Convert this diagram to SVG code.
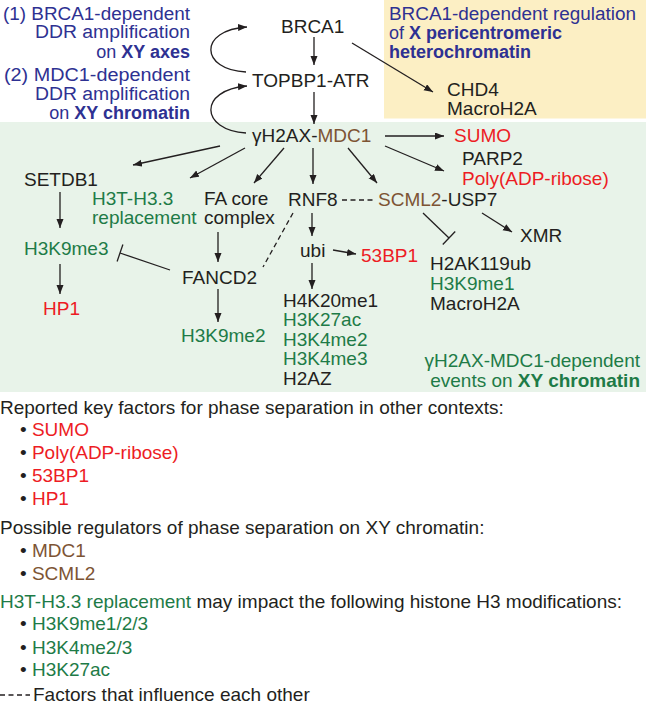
<svg xmlns="http://www.w3.org/2000/svg" width="646" height="708" viewBox="0 0 646 708">
<defs>
<style>
text{font-family:"Liberation Sans",Arial,sans-serif;font-size:19px;fill:#231f20}
.s{font-size:18px}
.b{font-weight:bold}
.bl{fill:#2E3192}
.g{fill:#1E7B47}
.r{fill:#ED1C24}
.br{fill:#7D5434}
.c{fill:none;stroke:#231f20;stroke-width:1.3}
.d{stroke-dasharray:5 3.5}
</style>
<marker id="ah" markerUnits="userSpaceOnUse" markerWidth="10" markerHeight="8" refX="9" refY="3.5" orient="auto">
<path d="M0,0 L9,3.5 L0,7 z" fill="#231f20"/>
</marker>
</defs>
<rect width="646" height="708" fill="#ffffff"/>
<rect id="bg-yellow" x="384" y="0" width="262" height="118.5" fill="#FCEFC4"/>
<rect id="bg-green" x="0" y="122" width="646" height="270" fill="#E8F3E9"/>

<g id="label-left">
<text x="190" y="19.5" text-anchor="end" class="bl s" textLength="187" lengthAdjust="spacingAndGlyphs">(1) BRCA1-dependent</text>
<text x="190" y="38" text-anchor="end" class="bl s" textLength="155" lengthAdjust="spacingAndGlyphs">DDR amplification</text>
<text x="190" y="57.5" text-anchor="end" class="bl s">on <tspan class="b">XY axes</tspan></text>
<text x="190" y="81" text-anchor="end" class="bl s" textLength="186" lengthAdjust="spacingAndGlyphs">(2) MDC1-dependent</text>
<text x="190" y="99.5" text-anchor="end" class="bl s" textLength="155" lengthAdjust="spacingAndGlyphs">DDR amplification</text>
<text x="190" y="118.5" text-anchor="end" class="bl s">on <tspan class="b">XY chromatin</tspan></text>
</g>
<g id="label-yellow">
<text x="389" y="20" class="bl s" textLength="247" lengthAdjust="spacingAndGlyphs">BRCA1-dependent regulation</text>
<text x="389" y="39" class="bl s">of <tspan class="b">X pericentromeric</tspan></text>
<text x="389" y="57.5" class="bl b s">heterochromatin</text>
</g>
<g id="label-green">
<text x="640" y="367" text-anchor="end" class="g">γH2AX-MDC1-dependent</text>
<text x="640" y="387" text-anchor="end" class="g">events on <tspan class="b">XY chromatin</tspan></text>
</g>

<g id="n-brca1"><text x="281" y="33">BRCA1</text></g>
<g id="n-topbp1"><text x="252" y="87">TOPBP1-ATR</text></g>
<g id="n-chd4"><text x="447" y="96">CHD4</text><text x="447" y="115">MacroH2A</text></g>
<g id="n-h2ax"><text x="252" y="142">γH2AX-<tspan class="br">MDC1</tspan></text></g>
<g id="n-sumo"><text x="454" y="142" class="r">SUMO</text></g>
<g id="n-parp2"><text x="462" y="165">PARP2</text><text x="462" y="185" class="r">Poly(ADP-ribose)</text></g>
<g id="n-setdb1"><text x="24" y="186">SETDB1</text></g>
<g id="n-h3t"><text x="92" y="205" class="g">H3T-H3.3</text><text x="92" y="224" class="g">replacement</text></g>
<g id="n-facore"><text x="204" y="205">FA core</text><text x="204" y="224">complex</text></g>
<g id="n-rnf8"><text x="288" y="206">RNF8</text></g>
<g id="n-scml2"><text x="378" y="206"><tspan class="br">SCML2</tspan>-USP7</text></g>
<g id="n-h3k9me3"><text x="24" y="255" class="g">H3K9me3</text></g>
<g id="n-fancd2"><text x="182" y="284">FANCD2</text></g>
<g id="n-hp1"><text x="43" y="315" class="r">HP1</text></g>
<g id="n-h3k9me2"><text x="181" y="342" class="g">H3K9me2</text></g>
<g id="n-ubi"><text x="300" y="257">ubi</text></g>
<g id="n-53bp1"><text x="361" y="262" class="r">53BP1</text></g>
<g id="n-xmr"><text x="520" y="242">XMR</text></g>
<g id="n-h2ak119ub"><text x="430" y="270">H2AK119ub</text><text x="430" y="290" class="g">H3K9me1</text><text x="430" y="310">MacroH2A</text></g>
<g id="n-h4k20me1"><text x="283" y="307">H4K20me1</text><text x="283" y="326" class="g">H3K27ac</text><text x="283" y="346" class="g">H3K4me2</text><text x="283" y="365" class="g">H3K4me3</text><text x="283" y="385">H2AZ</text></g>

<g id="connectors">
<line class="c" x1="314" y1="37" x2="314" y2="65" marker-end="url(#ah)"/>
<line class="c" x1="314" y1="92" x2="314" y2="124" marker-end="url(#ah)"/>
<line class="c" x1="352" y1="43" x2="433" y2="92" marker-end="url(#ah)"/>
<path class="c" d="M246 72 C200 70 198 30 247 27" marker-end="url(#ah)"/>
<path class="c" d="M246 133 C200 130 198 90 247 86" marker-end="url(#ah)"/>
<line class="c" x1="385" y1="136" x2="444" y2="136" marker-end="url(#ah)"/>
<line class="c" x1="385" y1="146" x2="444" y2="171" marker-end="url(#ah)"/>
<line class="c" x1="220" y1="146" x2="133" y2="165" marker-end="url(#ah)"/>
<line class="c" x1="245" y1="148" x2="190" y2="178" marker-end="url(#ah)"/>
<line class="c" x1="284" y1="148" x2="254" y2="183" marker-end="url(#ah)"/>
<line class="c" x1="313" y1="148" x2="313" y2="184" marker-end="url(#ah)"/>
<line class="c" x1="348" y1="148" x2="377" y2="183" marker-end="url(#ah)"/>
<line class="c d" x1="342" y1="200" x2="374" y2="200"/>
<line class="c" x1="60" y1="192" x2="60" y2="228" marker-end="url(#ah)"/>
<line class="c" x1="60" y1="264" x2="60" y2="294" marker-end="url(#ah)"/>
<line class="c" x1="170" y1="270" x2="120" y2="253"/>
<line class="c" x1="122.9" y1="244.5" x2="117.1" y2="261.5"/>
<line class="c" x1="218" y1="232" x2="218" y2="262" marker-end="url(#ah)"/>
<line class="c" x1="218" y1="289" x2="218" y2="322" marker-end="url(#ah)"/>
<line class="c d" x1="293" y1="213" x2="263" y2="267"/>
<line class="c" x1="312" y1="213" x2="312" y2="236" marker-end="url(#ah)"/>
<line class="c" x1="333" y1="250" x2="356" y2="254" marker-end="url(#ah)"/>
<line class="c" x1="312" y1="263" x2="312" y2="289" marker-end="url(#ah)"/>
<line class="c" x1="423" y1="213" x2="449" y2="238"/>
<line class="c" x1="455.2" y1="231.5" x2="442.8" y2="244.5"/>
<line class="c" x1="482" y1="213" x2="512" y2="232" marker-end="url(#ah)"/>
<line class="c d" x1="0" y1="695" x2="30" y2="695"/>
</g>

<g id="legend">
<text x="0" y="414">Reported key factors for phase separation in other contexts:</text>
<text x="20" y="436">• <tspan class="r">SUMO</tspan></text>
<text x="20" y="459">• <tspan class="r">Poly(ADP-ribose)</tspan></text>
<text x="20" y="482">• <tspan class="r">53BP1</tspan></text>
<text x="20" y="505">• <tspan class="r">HP1</tspan></text>
<text x="0" y="534">Possible regulators of phase separation on XY chromatin:</text>
<text x="20" y="557">• <tspan class="br">MDC1</tspan></text>
<text x="20" y="580">• <tspan class="br">SCML2</tspan></text>
<text x="0" y="608"><tspan class="g">H3T-H3.3 replacement</tspan> may impact the following histone H3 modifications:</text>
<text x="20" y="630">• <tspan class="g">H3K9me1/2/3</tspan></text>
<text x="20" y="654">• <tspan class="g">H3K4me2/3</tspan></text>
<text x="20" y="676">• <tspan class="g">H3K27ac</tspan></text>
<text x="33" y="701">Factors that influence each other</text>
</g>
</svg>
